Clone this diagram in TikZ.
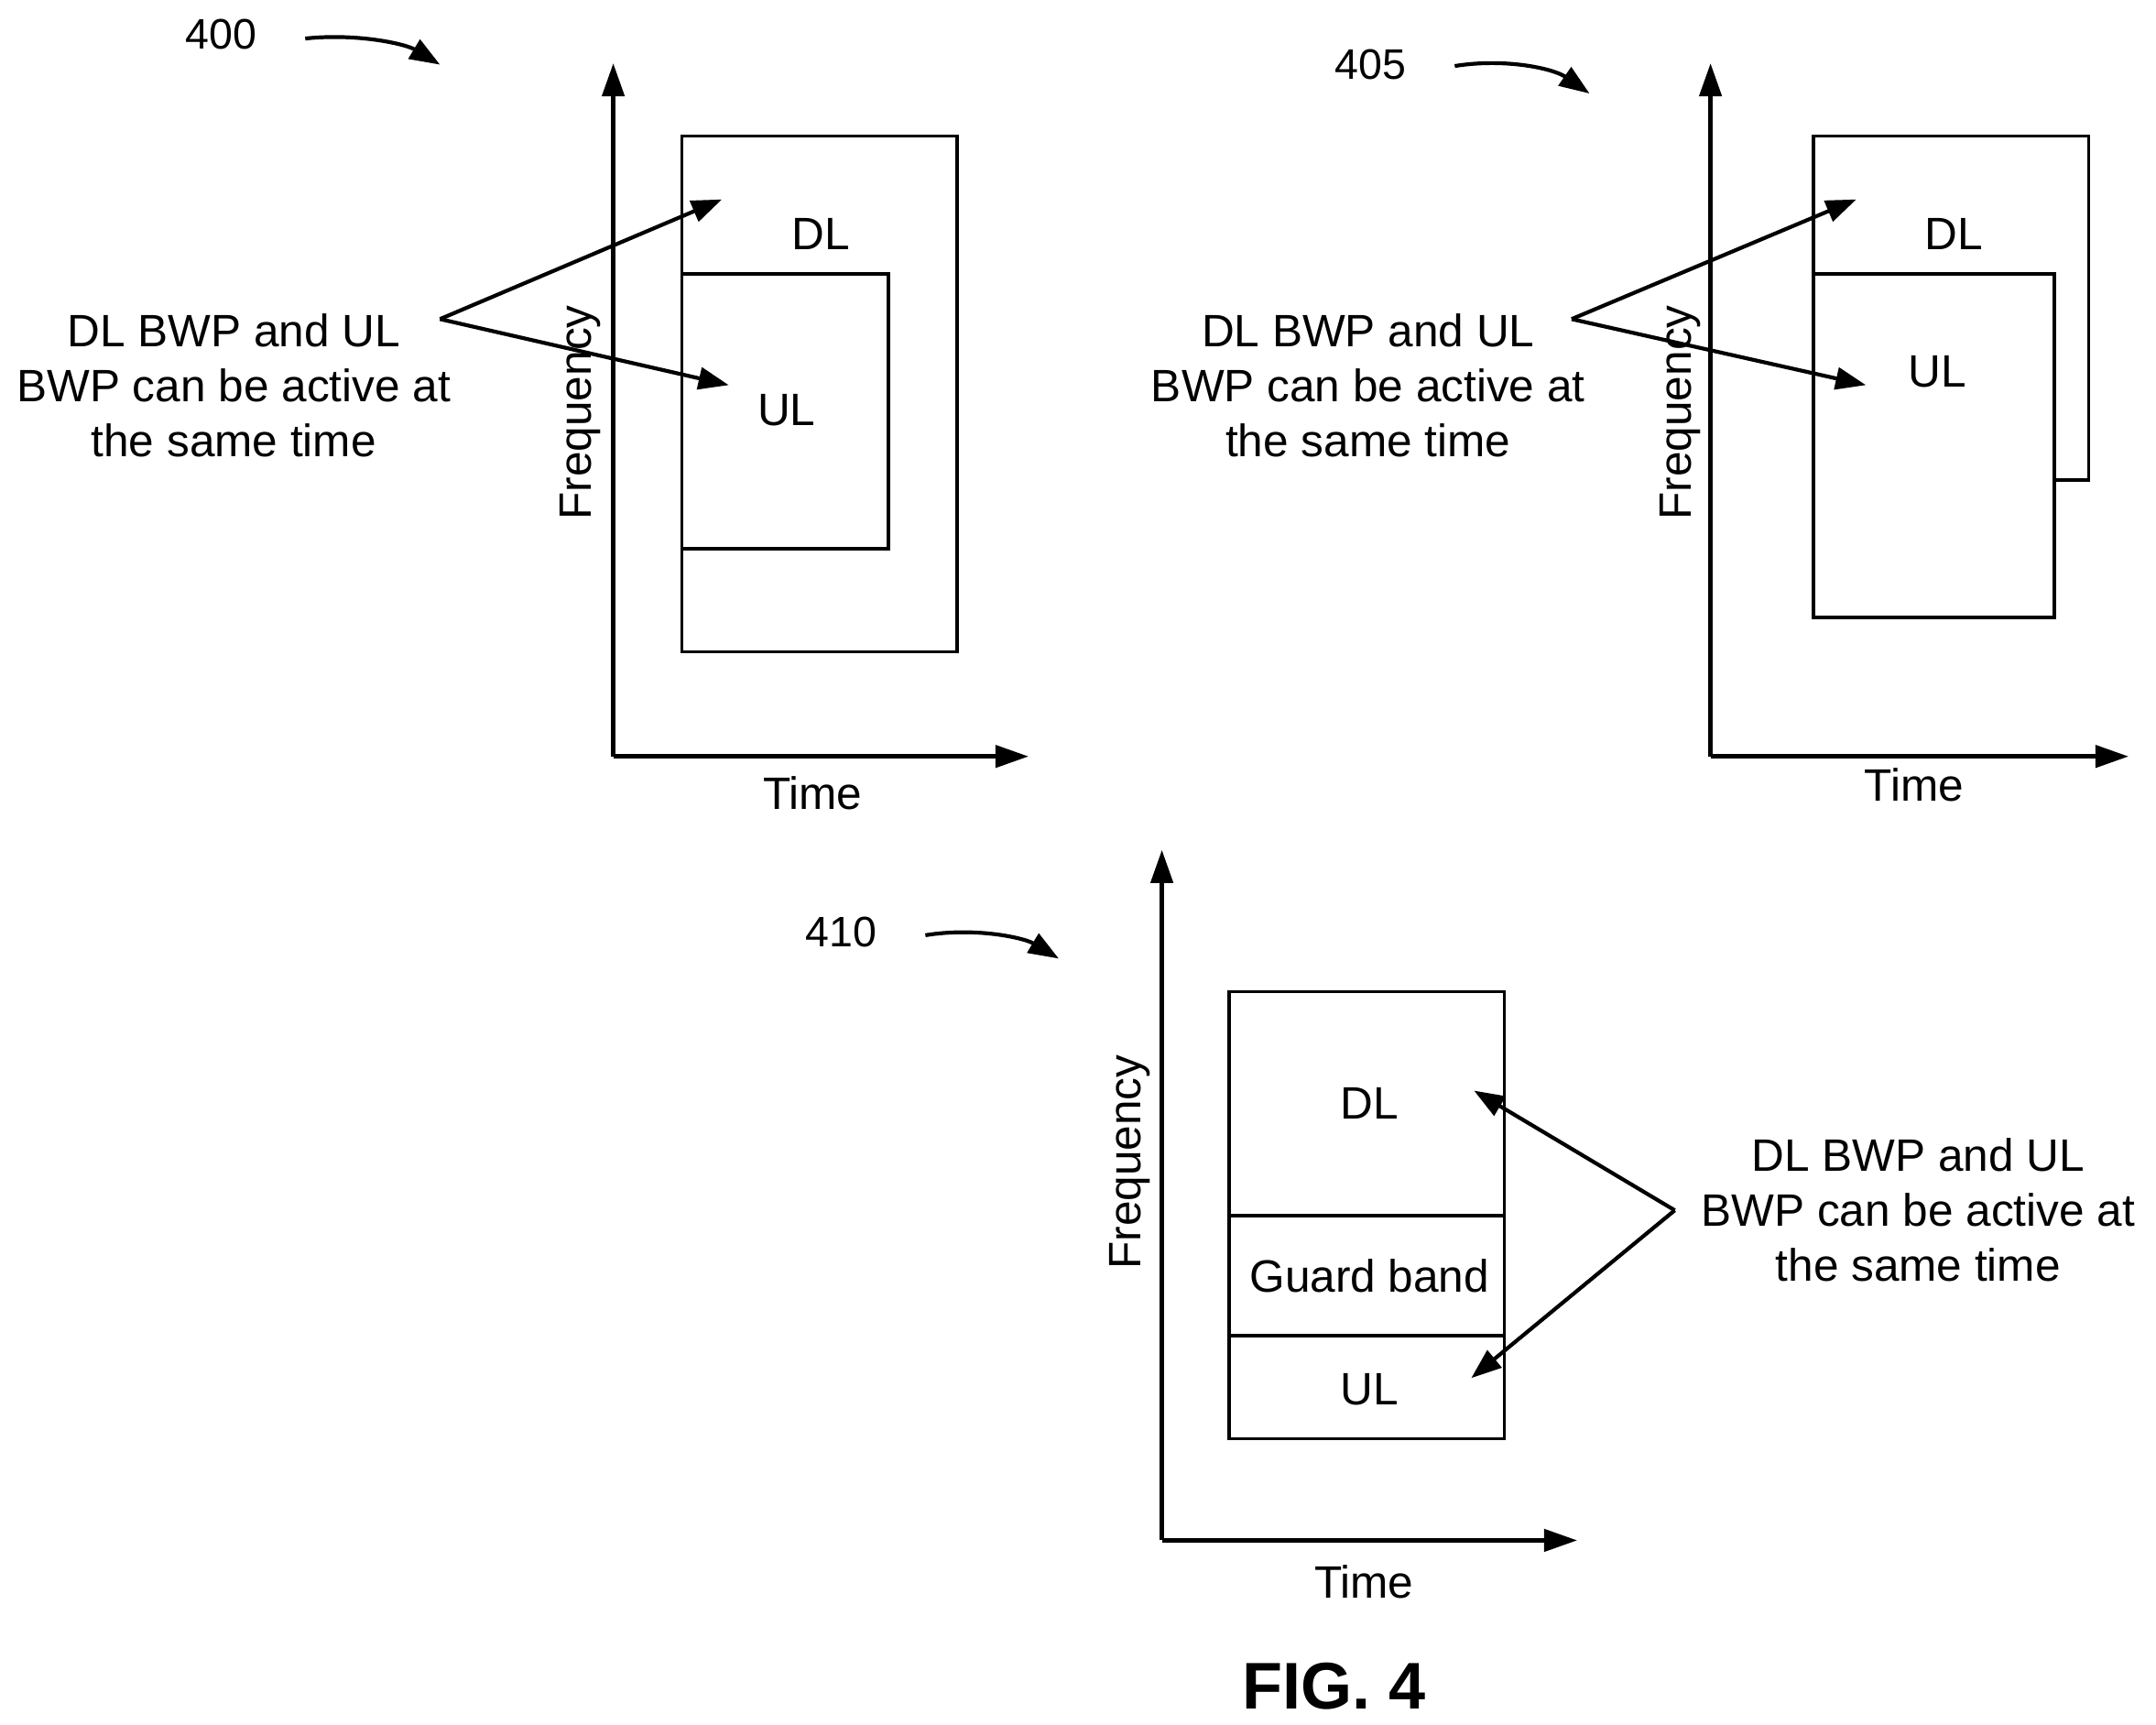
\documentclass[tikz,border=0pt]{standalone}
\usepackage{fontspec}
\setmainfont{Liberation Sans}
\usetikzlibrary{arrows.meta}
\begin{document}
\begin{tikzpicture}[x=0.5pt,y=-0.5pt,
  ax/.style={line width=1.5pt,-{Triangle[length=12pt,width=8pt]}},
  ptr/.style={line width=1.4pt,-{Triangle[length=11pt,width=8pt]}},
  box/.style={line width=1.2pt,draw=black},
  txt/.style={font=\fontsize{16.5}{20}\selectfont,align=center,inner sep=0pt},
  ref/.style={font=\fontsize{15.5}{17}\selectfont,inner sep=0pt}]
\useasboundingbox (0,0) rectangle (1568,1254);
% ---- 400
\coordinate (o1) at (446,550);
\coordinate (y1) at (446,46);
\coordinate (x1) at (748,550);
\draw[ax] (o1) -- (y1);
\draw[ax] (o1) -- (x1);
\draw[box] (496,99) rectangle (696,474);
\draw[box] (496,199) rectangle (646,399);
\node[txt] (dl1) at (597,170) {DL};
\node[txt] (ul1) at (572,298) {UL};
\node[txt,rotate=90] (f1) at (422,300) {Frequency};
\node[txt] (t1) at (591,577) {Time};
\node[txt] (c1) at (170,280) {DL BWP and UL\\BWP can be active at\\the same time};
\coordinate (p1) at (320,232);
\coordinate (a1) at (525,145);
\coordinate (b1) at (530,280);
\draw[ptr] (p1) -- (a1);
\draw[ptr] (p1) -- (b1);
\node[ref] (r400) at (161,25) {400};
\coordinate (s1) at (222,28); \coordinate (e1) at (320,47);
\draw[ptr] (s1) .. controls (260,24) and (295,32) .. (e1);
% ---- 405
\coordinate (o2) at (1244,550);
\coordinate (y2) at (1244,46);
\coordinate (x2) at (1548,550);
\draw[ax] (o2) -- (y2);
\draw[ax] (o2) -- (x2);
\draw[box] (1319,99) rectangle (1519,349);
\draw[box,fill=white] (1319,199) rectangle (1494,449);
\node[txt] (dl2) at (1421,170) {DL};
\node[txt] (ul2) at (1409,270) {UL};
\node[txt,rotate=90] (f2) at (1222,300) {Frequency};
\node[txt] (t2) at (1392,571) {Time};
\node[txt] (c2) at (995,280) {DL BWP and UL\\BWP can be active at\\the same time};
\coordinate (p2) at (1143,232);
\coordinate (a2) at (1350,145);
\coordinate (b2) at (1357,280);
\draw[ptr] (p2) -- (a2);
\draw[ptr] (p2) -- (b2);
\node[ref] (r405) at (997,47) {405};
\coordinate (s2) at (1058,48); \coordinate (e2) at (1156,68);
\draw[ptr] (s2) .. controls (1095,42) and (1130,50) .. (e2);
% ---- 410
\coordinate (o3) at (845,1120);
\coordinate (y3) at (845,618);
\coordinate (x3) at (1147,1120);
\draw[ax] (o3) -- (y3);
\draw[ax] (o3) -- (x3);
\draw[box] (894,721) rectangle (1094,1046);
\draw[box] (894,884) -- (1094,884);
\draw[box] (894,971) -- (1094,971);
\node[txt] (dl3) at (996,802) {DL};
\node[txt] (gb3) at (996,928) {Guard band};
\node[txt] (ul3) at (996,1010) {UL};
\node[txt,rotate=90] (f3) at (822,845) {Frequency};
\node[txt] (t3) at (992,1150) {Time};
\node[txt] (c3) at (1395,880) {DL BWP and UL\\BWP can be active at\\the same time};
\coordinate (p3) at (1218,880);
\coordinate (a3) at (1072,793);
\coordinate (b3) at (1070,1002);
\draw[ptr] (p3) -- (a3);
\draw[ptr] (p3) -- (b3);
\node[ref] (r410) at (612,678) {410};
\coordinate (s3) at (673,680); \coordinate (e3) at (770,697);
\draw[ptr] (s3) .. controls (710,674) and (745,682) .. (e3);
\node[font=\fontsize{24}{28}\selectfont\bfseries,inner sep=0pt] (fig) at (970,1226) {FIG. 4};
\end{tikzpicture}
\end{document}
